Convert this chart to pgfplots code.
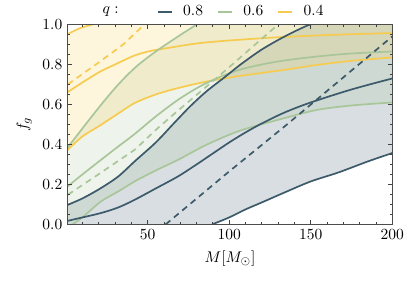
\documentclass[border=0pt]{standalone}
\usepackage{pgfplots}
\pgfplotsset{compat=1.18}
\definecolor{cB}{HTML}{3D5A6B}
\definecolor{cG}{HTML}{A9C69A}
\definecolor{cY}{HTML}{F6CB4F}
\begin{document}
\begin{tikzpicture}
\begin{axis}[name=ax, scale only axis, width=209.4pt, height=129pt,
  xmin=1, xmax=200, ymin=0, ymax=1,
  xtick={50,100,150,200}, minor xtick={10,20,...,190},
  ytick={0,0.2,0.4,0.6,0.8,1.0}, minor ytick={0.05,0.1,0.15,0.25,0.3,0.35,0.45,0.5,0.55,0.65,0.7,0.75,0.85,0.9,0.95},
  tick align=inside, major tick length=2.6pt, minor tick length=1.4pt,
  tick style={color=black!75, line width=0.5pt},
  axis line style={draw=black!70, line width=0.6pt},
  yticklabel style={/pgf/number format/.cd, fixed, fixed zerofill, precision=1},
  xlabel={$M[M_\odot]$}, ylabel={$f_g$},
  axis on top,
  legend style={at={(0.436,1.0)}, anchor=south, draw=none, fill=none, legend columns=-1,
    /tikz/every odd column/.append style={column sep=5pt},
    /tikz/every even column/.append style={column sep=7pt}},
  legend image code/.code={\draw[#1] (0cm,0cm) -- (9pt,0cm);},
]
% fills
\addplot[draw=none, fill=cB, fill opacity=0.2, forget plot] coordinates {
(1,0.098)(10,0.13)(21,0.18)(32,0.24)(42,0.315)(55,0.41)(66,0.505)(76,0.59)(86,0.665)(97,0.735)(107,0.80)(120,0.875)(134,0.94)(148,0.995)(160,1.02)(200,1.02)
(200,0.357)(185,0.315)(167,0.26)(150,0.215)(134,0.16)(120,0.11)(110,0.075)(100,0.035)(89.5,0)(1,0)};
\addplot[draw=none, fill=cG, fill opacity=0.2, forget plot] coordinates {
(1,0.385)(10,0.48)(21.4,0.598)(32,0.70)(42,0.782)(50,0.835)(58,0.882)(68.6,0.94)(80,1.0)(85,1.03)(200,1.03)
(200,0.61)(175,0.595)(154,0.573)(134,0.532)(107,0.47)(86.5,0.40)(68.6,0.323)(55,0.27)(42,0.215)(32,0.165)(21.4,0.115)(10,0.035)(4,0)(1,0)};
\addplot[draw=none, fill=cY, fill opacity=0.2, forget plot] coordinates {
(1,0.952)(8,0.98)(16,1.0)(25,1.02)(200,1.02)
(200,0.835)(175,0.818)(154,0.798)(134,0.773)(107,0.743)(86.5,0.715)(68.6,0.682)(55,0.65)(42,0.607)(32,0.555)(21.4,0.498)(10,0.44)(1,0.373)};
% yellow lines
\addplot[cY, line width=1.1pt, smooth, forget plot] coordinates {(1,0.952)(8,0.98)(16,1.0)(25,1.02)};
\addplot[cY, line width=1.1pt, smooth, forget plot] coordinates {(1,0.662)(10,0.71)(21,0.765)(30,0.80)(42,0.845)(52,0.868)(62,0.882)(80,0.905)(100,0.92)(134,0.938)(170,0.95)(200,0.957)};
\addplot[cY, line width=1.1pt, smooth, forget plot] coordinates {(1,0.373)(10,0.44)(21.4,0.498)(32,0.555)(42,0.607)(55,0.65)(68.6,0.682)(86.5,0.715)(107,0.743)(134,0.773)(154,0.798)(175,0.818)(200,0.835)};
\addplot[cY, line width=1.1pt, dash pattern=on 4pt off 3pt, forget plot] coordinates {(1,0.70)(20,0.81)(35,0.90)(48,1.0)};
% green lines
\addplot[cG, line width=1.1pt, smooth, forget plot] coordinates {(1,0.385)(10,0.48)(21.4,0.598)(32,0.70)(42,0.782)(50,0.835)(58,0.882)(68.6,0.94)(80,1.0)(85,1.03)};
\addplot[cG, line width=1.1pt, smooth, forget plot] coordinates {(1,0.19)(10,0.25)(21.4,0.323)(32,0.39)(42,0.452)(55,0.54)(68.6,0.623)(82,0.69)(95,0.74)(107,0.775)(120,0.80)(134,0.82)(154,0.84)(175,0.855)(200,0.865)};
\addplot[cG, line width=1.1pt, smooth, forget plot] coordinates {(4,0)(10,0.035)(21.4,0.115)(32,0.165)(42,0.215)(55,0.27)(68.6,0.323)(86.5,0.40)(107,0.47)(134,0.532)(154,0.573)(175,0.595)(200,0.61)};
\addplot[cG, line width=1.1pt, dash pattern=on 4pt off 3pt, forget plot] coordinates {(1,0.148)(21,0.257)(42,0.373)(56,0.48)(68,0.565)(97,0.765)(130,1.0)};
% blue lines
\addplot[cB, line width=1.1pt, smooth, forget plot] coordinates {(1,0.098)(10,0.13)(21,0.18)(32,0.24)(42,0.315)(55,0.41)(66,0.505)(76,0.59)(86,0.665)(97,0.735)(107,0.80)(120,0.875)(134,0.94)(148,0.995)(155,1.01)};
\addplot[cB, line width=1.1pt, smooth, forget plot] coordinates {(1,0.018)(10,0.035)(21.4,0.057)(32,0.085)(42,0.123)(55,0.18)(68.6,0.24)(80,0.30)(90,0.355)(100,0.41)(110,0.46)(120,0.505)(134,0.56)(150,0.61)(175,0.675)(200,0.73)};
\addplot[cB, line width=1.1pt, smooth, forget plot] coordinates {(89.5,0)(100,0.035)(110,0.075)(120,0.11)(134,0.16)(150,0.215)(167,0.26)(185,0.315)(200,0.357)};
\addplot[cB, line width=1.1pt, dash pattern=on 4pt off 3pt, forget plot] coordinates {(61,0)(100,0.265)(134.7,0.495)(200,0.94)};
% legend
\addlegendimage{empty legend}\addlegendentry{$q:$\kern15.5pt}
\addlegendimage{cB, line width=1.1pt}\addlegendentry{$0.8$}
\addlegendimage{cG, line width=1.1pt}\addlegendentry{$0.6$}
\addlegendimage{cY, line width=1.1pt}\addlegendentry{$0.4$}
\end{axis}
\pgfresetboundingbox
\path[use as bounding box] ([xshift=-43.7pt,yshift=15.8pt]ax.north west) rectangle ([xshift=9.5pt,yshift=-45.2pt]ax.south east);
\end{tikzpicture}
\end{document}
